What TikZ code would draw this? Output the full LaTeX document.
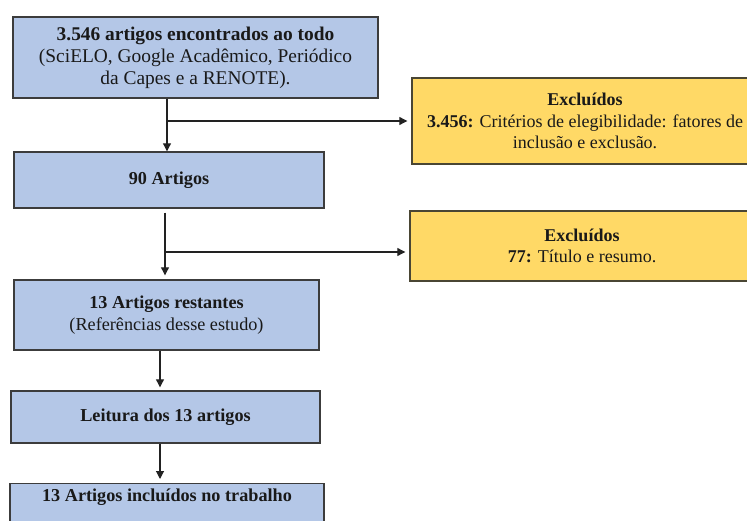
\documentclass[tikz,border=0pt]{standalone}
\usepackage{fontspec}
\setmainfont{Liberation Serif}
\usetikzlibrary{arrows.meta}
\definecolor{boxblue}{HTML}{B4C7E7}
\definecolor{boxyellow}{HTML}{FFD966}
\definecolor{bluebord}{HTML}{3C3C3C}
\definecolor{yellbord}{HTML}{4A4634}
\definecolor{connc}{HTML}{222222}
\begin{document}
\begin{tikzpicture}[x=1pt,y=-1pt,
  bbox/.style={draw=bluebord, fill=boxblue, line width=1.4pt, align=center, inner sep=0pt,
    font=\fontsize{18.2}{21.7}\selectfont, text=black!90},
  ybox/.style={draw=yellbord, fill=boxyellow, line width=1.4pt, align=center, inner sep=0pt,
    font=\fontsize{18}{21.5}\selectfont, text=black!90},
  conn/.style={draw=connc, line width=1.1pt, -{Triangle[length=8pt,width=8pt]}}]
\useasboundingbox (0,0) rectangle (747,521);
\node[bbox, minimum width=365pt, minimum height=81pt, font=\fontsize{19.4}{22}\selectfont] (b1) at (195.5,57.5)
  {\textbf{3.546 artigos encontrados ao todo}\\(SciELO, Google Acadêmico, Periódico\\da Capes e a RENOTE).};
\node[bbox, minimum width=310pt, minimum height=56pt] (b2) at (169,180) {\textbf{90 Artigos}};
\node[bbox, minimum width=305pt, minimum height=70pt] (b3) at (166.5,315)
  {\textbf{13 Artigos restantes}\\(Referências desse estudo)};
\node[bbox, minimum width=309pt, minimum height=52pt] (b4) at (165.5,417) {\textbf{Leitura dos 13 artigos}};
\node[bbox, minimum width=314pt, anchor=north, text height=18pt, text depth=40pt] (b5) at (167,483)
  {\textbf{13 Artigos incluídos no trabalho}};
\node[ybox, minimum width=346pt, minimum height=86pt] (y1) at (585,121)
  {\textbf{Excluídos}\\\textbf{3.456:} Critérios de elegibilidade: fatores de\\inclusão e exclusão.};
\node[ybox, minimum width=344pt, minimum height=70pt] (y2) at (582,246)
  {\textbf{Excluídos}\\\textbf{77:} Título e resumo.};
\coordinate (j1) at (167,121);
\coordinate (j2) at (165,252);
\draw[conn] (b1.south -| j1) -- (b2.north -| j1);
\draw[conn, shorten >=4pt] (j1) -- (y1.west |- j1);
\draw[conn, shorten <=4pt, shorten >=4pt] (b2.south -| j2) -- (b3.north -| j2);
\draw[conn, shorten >=4pt] (j2) -- (y2.west |- j2);
\draw[conn, shorten >=3pt] ([xshift=-6.5pt]b3.south) -- ([xshift=-6.5pt]b3.south |- b4.north);
\draw[conn, shorten >=4pt] ([xshift=-5.5pt]b4.south) -- ([xshift=-5.5pt]b4.south |- b5.north);
\end{tikzpicture}
\end{document}
